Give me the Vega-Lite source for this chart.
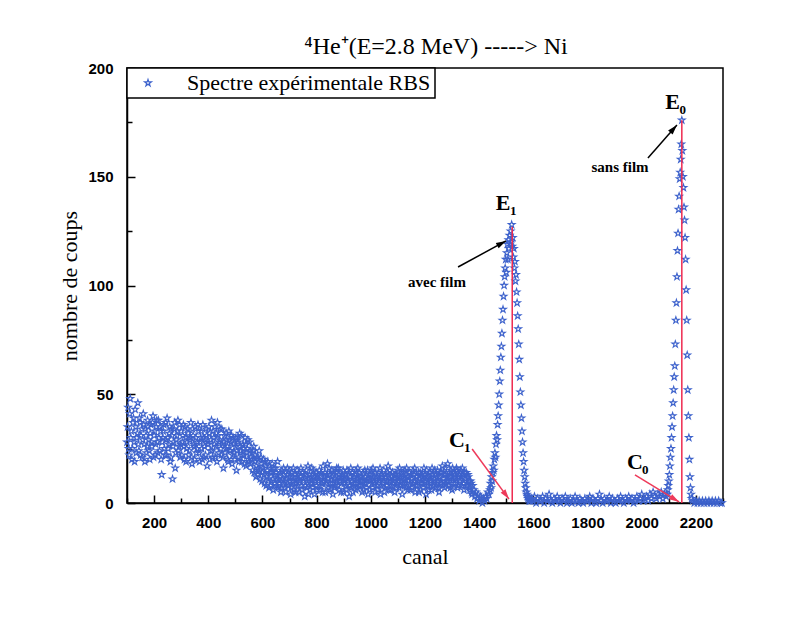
{
  "$schema": "https://vega.github.io/schema/vega-lite/v6.json",
  "width": 596,
  "height": 435,
  "autosize": "none",
  "padding": {"left": 127, "top": 68, "right": 77, "bottom": 120},
  "background": "white",
  "title": {"text": "⁴He⁺(E=2.8 MeV) -----> Ni", "font": "Liberation Serif", "fontSize": 24, "fontWeight": "normal", "color": "black", "offset": 2, "dx": 11, "anchor": "middle", "frame": "group"},
  "resolve": {"axis": {"x": "independent", "y": "independent"}},
  "config": {
    "view": {"stroke": "black", "strokeWidth": 1.5},
    "legend": {"orient": "top-left", "offset": 0, "strokeColor": "black", "strokeWidth": 1.5, "fillColor": "white", "padding": 4, "labelFont": "Liberation Serif", "labelFontSize": 22, "labelColor": "black", "labelLimit": 400, "labelOffset": 28, "symbolOffset": 6, "symbolSize": 50, "symbolStrokeWidth": 1.2, "symbolType": "M0,-1L0.2245,-0.309L0.9511,-0.309L0.3633,0.118L0.5878,0.809L0,0.382L-0.5878,0.809L-0.3633,0.118L-0.9511,-0.309L-0.2245,-0.309Z"}
  },
  "datasets": {
    "spec": [
      {"c":100,"n":28},{"c":104,"n":44},{"c":108,"n":22},{"c":112,"n":48},{"c":116,"n":33},{"c":120,"n":25},{"c":124,"n":39},{"c":128,"n":19},{"c":132,"n":35},{"c":136,"n":30},
      {"c":140,"n":46},{"c":144,"n":24},{"c":148,"n":37},{"c":152,"n":31},{"c":156,"n":21},{"c":160,"n":41},{"c":164,"n":27},{"c":168,"n":34},{"c":172,"n":23},{"c":176,"n":38},
      {"c":180,"n":29},{"c":184,"n":20},{"c":188,"n":36},{"c":192,"n":26},{"c":196,"n":40},{"c":200,"n":31},{"c":204,"n":22},{"c":208,"n":35},{"c":212,"n":28},{"c":216,"n":38},
      {"c":220,"n":24},{"c":224,"n":33},{"c":228,"n":13},{"c":232,"n":30},{"c":236,"n":36},{"c":240,"n":22},{"c":244,"n":29},{"c":248,"n":39},{"c":252,"n":25},{"c":256,"n":32},
      {"c":260,"n":19},{"c":264,"n":34},{"c":268,"n":11},{"c":272,"n":28},{"c":276,"n":37},{"c":280,"n":23},{"c":284,"n":31},{"c":288,"n":38},{"c":292,"n":26},{"c":296,"n":21},
      {"c":300,"n":33},{"c":304,"n":28},{"c":308,"n":36},{"c":312,"n":20},{"c":316,"n":30},{"c":320,"n":25},{"c":324,"n":34},{"c":328,"n":22},{"c":332,"n":29},{"c":336,"n":37},
      {"c":340,"n":18},{"c":344,"n":31},{"c":348,"n":26},{"c":352,"n":35},{"c":356,"n":23},{"c":360,"n":28},{"c":364,"n":33},{"c":368,"n":19},{"c":372,"n":30},{"c":376,"n":25},
      {"c":380,"n":36},{"c":384,"n":21},{"c":388,"n":29},{"c":392,"n":34},{"c":396,"n":17},{"c":400,"n":27},{"c":404,"n":32},{"c":408,"n":24},{"c":412,"n":38},{"c":416,"n":21},
      {"c":420,"n":30},{"c":424,"n":35},{"c":428,"n":26},{"c":432,"n":19},{"c":436,"n":31},{"c":440,"n":28},{"c":444,"n":34},{"c":448,"n":22},{"c":452,"n":27},{"c":456,"n":16},
      {"c":460,"n":31},{"c":464,"n":25},{"c":468,"n":29},{"c":472,"n":20},{"c":476,"n":33},{"c":480,"n":24},{"c":484,"n":28},{"c":488,"n":18},{"c":492,"n":30},{"c":496,"n":23},
      {"c":500,"n":26},{"c":504,"n":15},{"c":508,"n":29},{"c":512,"n":21},{"c":516,"n":32},{"c":520,"n":24},{"c":524,"n":19},{"c":528,"n":27},{"c":532,"n":22},{"c":536,"n":30},
      {"c":540,"n":17},{"c":544,"n":25},{"c":548,"n":20},{"c":552,"n":28},{"c":556,"n":18},
      {"c":560,"n":23},{"c":564,"n":15},{"c":568,"n":26},{"c":572,"n":19},{"c":576,"n":12},{"c":580,"n":21},{"c":584,"n":16},{"c":588,"n":24},{"c":592,"n":11},{"c":596,"n":18},
      {"c":600,"n":14},{"c":604,"n":20},{"c":608,"n":9},{"c":612,"n":17},{"c":616,"n":12},{"c":620,"n":19},{"c":624,"n":7},{"c":628,"n":14},{"c":632,"n":10},{"c":636,"n":18},
      {"c":640,"n":6},{"c":644,"n":13},{"c":648,"n":16},{"c":652,"n":8},{"c":656,"n":19},{"c":660,"n":11},
      {"c":664,"n":12},{"c":668,"n":5},{"c":672,"n":15},{"c":676,"n":9},{"c":680,"n":13},{"c":684,"n":7},{"c":688,"n":11},{"c":692,"n":16},{"c":696,"n":8},{"c":700,"n":12},
      {"c":704,"n":4},{"c":708,"n":14},{"c":712,"n":10},{"c":716,"n":6},{"c":720,"n":13},{"c":724,"n":9},{"c":728,"n":15},{"c":732,"n":11},{"c":736,"n":5},{"c":740,"n":12},
      {"c":744,"n":8},{"c":748,"n":14},{"c":752,"n":10},{"c":756,"n":3},{"c":760,"n":13},{"c":764,"n":7},{"c":768,"n":17},{"c":772,"n":11},{"c":776,"n":6},{"c":780,"n":12},
      {"c":784,"n":9},{"c":788,"n":15},{"c":792,"n":4},{"c":796,"n":11},{"c":800,"n":8},{"c":804,"n":13},{"c":808,"n":10},{"c":812,"n":6},{"c":816,"n":14},{"c":820,"n":9},
      {"c":824,"n":17},{"c":828,"n":12},{"c":832,"n":5},{"c":836,"n":10},{"c":840,"n":18},{"c":844,"n":7},{"c":848,"n":13},{"c":852,"n":9},{"c":856,"n":15},{"c":860,"n":4},
      {"c":864,"n":11},{"c":868,"n":8},{"c":872,"n":14},{"c":876,"n":10},{"c":880,"n":16},{"c":884,"n":6},{"c":888,"n":12},{"c":892,"n":9},{"c":896,"n":13},{"c":900,"n":5},
      {"c":904,"n":11},{"c":908,"n":8},{"c":912,"n":15},{"c":916,"n":10},{"c":920,"n":3},{"c":924,"n":12},{"c":928,"n":7},{"c":932,"n":14},{"c":936,"n":9},{"c":940,"n":13},
      {"c":944,"n":6},{"c":948,"n":11},{"c":952,"n":16},{"c":956,"n":8},{"c":960,"n":12},{"c":964,"n":10},{"c":968,"n":5},{"c":972,"n":14},{"c":976,"n":9},{"c":980,"n":12},
      {"c":984,"n":7},{"c":988,"n":15},{"c":992,"n":11},{"c":996,"n":6},{"c":1000,"n":13},{"c":1004,"n":9},{"c":1008,"n":16},{"c":1012,"n":10},{"c":1016,"n":5},{"c":1020,"n":12},
      {"c":1024,"n":8},{"c":1028,"n":14},{"c":1032,"n":11},{"c":1036,"n":4},{"c":1040,"n":13},{"c":1044,"n":9},{"c":1048,"n":15},{"c":1052,"n":7},{"c":1056,"n":12},{"c":1060,"n":10},
      {"c":1064,"n":17},{"c":1068,"n":6},{"c":1072,"n":11},{"c":1076,"n":8},{"c":1080,"n":14},{"c":1084,"n":10},{"c":1088,"n":5},{"c":1092,"n":13},{"c":1096,"n":9},{"c":1100,"n":15},
      {"c":1104,"n":7},{"c":1108,"n":12},{"c":1112,"n":10},{"c":1116,"n":4},{"c":1120,"n":14},{"c":1124,"n":8},{"c":1128,"n":11},{"c":1132,"n":16},{"c":1136,"n":6},{"c":1140,"n":12},
      {"c":1144,"n":9},{"c":1148,"n":13},{"c":1152,"n":7},{"c":1156,"n":15},{"c":1160,"n":10},{"c":1164,"n":5},{"c":1168,"n":12},{"c":1172,"n":8},{"c":1176,"n":14},{"c":1180,"n":11},
      {"c":1184,"n":6},{"c":1188,"n":13},{"c":1192,"n":9},{"c":1196,"n":16},{"c":1200,"n":10},{"c":1204,"n":4},{"c":1208,"n":12},{"c":1212,"n":8},{"c":1216,"n":14},{"c":1220,"n":11},
      {"c":1224,"n":6},{"c":1228,"n":13},{"c":1232,"n":9},{"c":1236,"n":15},{"c":1240,"n":7},{"c":1244,"n":12},{"c":1248,"n":10},{"c":1252,"n":5},{"c":1256,"n":14},{"c":1260,"n":9},
      {"c":1264,"n":17},{"c":1268,"n":11},{"c":1272,"n":7},{"c":1276,"n":13},{"c":1280,"n":10},{"c":1284,"n":18},{"c":1288,"n":8},{"c":1292,"n":12},{"c":1296,"n":15},{"c":1300,"n":6},
      {"c":1304,"n":11},{"c":1308,"n":14},{"c":1312,"n":9},{"c":1316,"n":16},{"c":1320,"n":7},{"c":1324,"n":12},{"c":1328,"n":10},{"c":1332,"n":15},{"c":1336,"n":8},{"c":1340,"n":13},
      {"c":1344,"n":6},{"c":1348,"n":11},{"c":1352,"n":14},{"c":1356,"n":9},{"c":1360,"n":12},{"c":1364,"n":7},{"c":1368,"n":10},{"c":1372,"n":5},{"c":1376,"n":8},
      {"c":102,"n":35},{"c":106,"n":25},{"c":110,"n":41},{"c":114,"n":30},{"c":118,"n":20},{"c":122,"n":37},{"c":126,"n":28},{"c":130,"n":43},{"c":134,"n":23},{"c":138,"n":32},
      {"c":142,"n":27},{"c":146,"n":39},{"c":150,"n":22},{"c":154,"n":34},{"c":158,"n":29},{"c":162,"n":36},{"c":166,"n":19},{"c":170,"n":31},{"c":174,"n":26},{"c":178,"n":35},
      {"c":182,"n":24},{"c":186,"n":32},{"c":190,"n":28},{"c":194,"n":37},{"c":198,"n":21},{"c":202,"n":33},{"c":206,"n":27},{"c":210,"n":38},{"c":214,"n":23},{"c":218,"n":30},
      {"c":222,"n":35},{"c":226,"n":20},{"c":230,"n":28},{"c":234,"n":33},{"c":238,"n":25},{"c":242,"n":37},{"c":246,"n":22},{"c":250,"n":30},{"c":254,"n":27},{"c":258,"n":35},
      {"c":262,"n":21},{"c":266,"n":31},{"c":270,"n":26},{"c":274,"n":34},{"c":278,"n":16},{"c":282,"n":29},{"c":286,"n":33},{"c":290,"n":24},{"c":294,"n":36},{"c":298,"n":27},
      {"c":302,"n":22},{"c":306,"n":31},{"c":310,"n":26},{"c":314,"n":35},{"c":318,"n":19},{"c":322,"n":28},{"c":326,"n":32},{"c":330,"n":24},{"c":334,"n":30},{"c":338,"n":21},
      {"c":342,"n":34},{"c":346,"n":27},{"c":350,"n":20},{"c":354,"n":30},{"c":358,"n":25},{"c":362,"n":36},{"c":366,"n":23},{"c":370,"n":28},{"c":374,"n":33},{"c":378,"n":20},
      {"c":382,"n":30},{"c":386,"n":26},{"c":390,"n":22},{"c":394,"n":31},{"c":398,"n":27},{"c":402,"n":35},{"c":406,"n":20},{"c":410,"n":29},{"c":414,"n":24},{"c":418,"n":33},
      {"c":422,"n":27},{"c":426,"n":21},{"c":430,"n":32},{"c":434,"n":37},{"c":438,"n":23},{"c":442,"n":29},{"c":446,"n":25},{"c":450,"n":34},{"c":454,"n":21},{"c":458,"n":28},
      {"c":462,"n":23},{"c":466,"n":32},{"c":470,"n":26},{"c":474,"n":19},{"c":478,"n":29},{"c":482,"n":24},{"c":486,"n":31},{"c":490,"n":22},{"c":494,"n":27},{"c":498,"n":20},
      {"c":502,"n":30},{"c":506,"n":24},{"c":510,"n":28},{"c":514,"n":19},{"c":518,"n":26},{"c":522,"n":31},{"c":526,"n":22},{"c":530,"n":25},{"c":534,"n":18},{"c":538,"n":27},
      {"c":542,"n":23},{"c":546,"n":29},{"c":550,"n":19},{"c":554,"n":24},{"c":558,"n":21},
      {"c":562,"n":20},{"c":566,"n":24},{"c":570,"n":14},{"c":574,"n":22},{"c":578,"n":17},{"c":582,"n":13},{"c":586,"n":20},{"c":590,"n":15},{"c":594,"n":21},{"c":598,"n":10},
      {"c":602,"n":16},{"c":606,"n":13},{"c":610,"n":19},{"c":614,"n":8},{"c":618,"n":15},{"c":622,"n":11},{"c":626,"n":17},{"c":630,"n":8},{"c":634,"n":14},{"c":638,"n":11},
      {"c":642,"n":16},{"c":646,"n":9},{"c":650,"n":14},{"c":654,"n":11},{"c":658,"n":7},
      {"c":662,"n":9},{"c":666,"n":14},{"c":670,"n":7},{"c":674,"n":11},{"c":678,"n":16},{"c":682,"n":10},{"c":686,"n":5},{"c":690,"n":13},{"c":694,"n":9},{"c":698,"n":15},
      {"c":702,"n":10},{"c":706,"n":7},{"c":710,"n":12},{"c":714,"n":16},{"c":718,"n":9},{"c":722,"n":5},{"c":726,"n":12},{"c":730,"n":8},{"c":734,"n":14},{"c":738,"n":10},
      {"c":742,"n":16},{"c":746,"n":6},{"c":750,"n":11},{"c":754,"n":13},{"c":758,"n":8},{"c":762,"n":15},{"c":766,"n":10},{"c":770,"n":4},{"c":774,"n":13},{"c":778,"n":9},
      {"c":782,"n":16},{"c":786,"n":7},{"c":790,"n":12},{"c":794,"n":10},{"c":798,"n":14},{"c":802,"n":6},{"c":806,"n":11},{"c":810,"n":15},{"c":814,"n":8},{"c":818,"n":12},
      {"c":822,"n":5},{"c":826,"n":10},{"c":830,"n":14},{"c":834,"n":9},{"c":838,"n":13},{"c":842,"n":11},{"c":846,"n":16},{"c":850,"n":6},{"c":854,"n":12},{"c":858,"n":9},
      {"c":862,"n":14},{"c":866,"n":7},{"c":870,"n":11},{"c":874,"n":16},{"c":878,"n":8},{"c":882,"n":13},{"c":886,"n":10},{"c":890,"n":5},{"c":894,"n":12},{"c":898,"n":15},
      {"c":902,"n":9},{"c":906,"n":13},{"c":910,"n":6},{"c":914,"n":11},{"c":918,"n":14},{"c":922,"n":8},{"c":926,"n":16},{"c":930,"n":10},{"c":934,"n":5},{"c":938,"n":12},
      {"c":942,"n":9},{"c":946,"n":15},{"c":950,"n":7},{"c":954,"n":11},{"c":958,"n":14},{"c":962,"n":8},{"c":966,"n":12},{"c":970,"n":10},{"c":974,"n":6},{"c":978,"n":15},
      {"c":982,"n":9},{"c":986,"n":11},{"c":990,"n":4},{"c":994,"n":13},{"c":998,"n":10},{"c":1002,"n":15},{"c":1006,"n":7},{"c":1010,"n":12},{"c":1014,"n":9},{"c":1018,"n":14},
      {"c":1022,"n":11},{"c":1026,"n":6},{"c":1030,"n":10},{"c":1034,"n":16},{"c":1038,"n":8},{"c":1042,"n":12},{"c":1046,"n":10},{"c":1050,"n":5},{"c":1054,"n":13},{"c":1058,"n":8},
      {"c":1062,"n":14},{"c":1066,"n":10},{"c":1070,"n":15},{"c":1074,"n":6},{"c":1078,"n":12},{"c":1082,"n":9},{"c":1086,"n":13},{"c":1090,"n":11},{"c":1094,"n":7},{"c":1098,"n":12},
      {"c":1102,"n":10},{"c":1106,"n":16},{"c":1110,"n":8},{"c":1114,"n":13},{"c":1118,"n":9},{"c":1122,"n":11},{"c":1126,"n":15},{"c":1130,"n":7},{"c":1134,"n":12},{"c":1138,"n":10},
      {"c":1142,"n":14},{"c":1146,"n":6},{"c":1150,"n":11},{"c":1154,"n":9},{"c":1158,"n":13},{"c":1162,"n":16},{"c":1166,"n":8},{"c":1170,"n":12},{"c":1174,"n":10},{"c":1178,"n":5},
      {"c":1182,"n":14},{"c":1186,"n":9},{"c":1190,"n":12},{"c":1194,"n":7},{"c":1198,"n":13},{"c":1202,"n":11},{"c":1206,"n":15},{"c":1210,"n":9},{"c":1214,"n":6},{"c":1218,"n":12},
      {"c":1222,"n":10},{"c":1226,"n":16},{"c":1230,"n":8},{"c":1234,"n":11},{"c":1238,"n":13},{"c":1242,"n":9},{"c":1246,"n":15},{"c":1250,"n":7},{"c":1254,"n":12},{"c":1258,"n":10},
      {"c":1262,"n":14},{"c":1266,"n":8},{"c":1270,"n":13},{"c":1274,"n":16},{"c":1278,"n":9},{"c":1282,"n":12},{"c":1286,"n":10},{"c":1290,"n":14},{"c":1294,"n":7},{"c":1298,"n":12},
      {"c":1302,"n":16},{"c":1306,"n":9},{"c":1310,"n":13},{"c":1314,"n":11},{"c":1318,"n":15},{"c":1322,"n":8},{"c":1326,"n":13},{"c":1330,"n":10},{"c":1334,"n":12},{"c":1338,"n":16},
      {"c":1342,"n":9},{"c":1346,"n":14},{"c":1350,"n":11},{"c":1354,"n":8},{"c":1358,"n":13},{"c":1362,"n":10},{"c":1366,"n":6},{"c":1370,"n":9},{"c":1374,"n":4},
      {"c":1380,"n":6},{"c":1384,"n":3},{"c":1388,"n":5},{"c":1392,"n":2},{"c":1396,"n":4},{"c":1400,"n":1},{"c":1404,"n":3},{"c":1408,"n":2},{"c":1412,"n":0},{"c":1416,"n":2},
      {"c":1420,"n":1},{"c":1424,"n":3},{"c":1428,"n":2},{"c":1432,"n":5},{"c":1436,"n":4},
      {"c":1440,"n":6},{"c":1442,"n":9},{"c":1444,"n":7},{"c":1446,"n":12},{"c":1448,"n":10},{"c":1450,"n":14},{"c":1452,"n":17},{"c":1454,"n":15},{"c":1456,"n":20},{"c":1458,"n":23},
      {"c":1460,"n":21},{"c":1462,"n":27},{"c":1464,"n":31},{"c":1466,"n":29},{"c":1468,"n":36},{"c":1470,"n":40},{"c":1472,"n":45},{"c":1474,"n":50},{"c":1476,"n":56},{"c":1478,"n":61},
      {"c":1480,"n":67},{"c":1482,"n":72},{"c":1484,"n":78},{"c":1486,"n":84},{"c":1488,"n":89},{"c":1490,"n":95},{"c":1492,"n":100},{"c":1494,"n":104},{"c":1496,"n":108},{"c":1498,"n":112},
      {"c":1500,"n":106},{"c":1502,"n":115},{"c":1504,"n":119},{"c":1506,"n":112},{"c":1508,"n":121},{"c":1510,"n":117},{"c":1512,"n":123},{"c":1514,"n":119},{"c":1516,"n":125},{"c":1518,"n":120},
      {"c":1520,"n":128},{"c":1522,"n":118},{"c":1524,"n":122},{"c":1526,"n":113},{"c":1528,"n":117},{"c":1530,"n":108},{"c":1532,"n":111},{"c":1534,"n":102},{"c":1536,"n":105},{"c":1538,"n":97},
      {"c":1540,"n":92},{"c":1542,"n":86},{"c":1544,"n":80},{"c":1546,"n":73},{"c":1548,"n":66},{"c":1550,"n":58},{"c":1552,"n":51},{"c":1554,"n":45},{"c":1556,"n":39},{"c":1558,"n":33},
      {"c":1560,"n":28},{"c":1562,"n":23},{"c":1564,"n":19},{"c":1566,"n":15},{"c":1568,"n":12},{"c":1570,"n":9},{"c":1572,"n":7},{"c":1574,"n":5},{"c":1576,"n":4},{"c":1578,"n":3},
      {"c":1580,"n":2},{"c":1582,"n":3},{"c":1584,"n":1},{"c":1586,"n":2},{"c":1588,"n":1},{"c":1590,"n":1},
      {"c":1592,"n":2},{"c":1598,"n":1},{"c":1604,"n":3},{"c":1610,"n":0},{"c":1616,"n":2},{"c":1622,"n":1},{"c":1628,"n":1},{"c":1634,"n":3},{"c":1640,"n":0},{"c":1646,"n":2},
      {"c":1652,"n":1},{"c":1658,"n":4},{"c":1664,"n":1},{"c":1670,"n":0},{"c":1676,"n":2},{"c":1682,"n":1},{"c":1688,"n":3},{"c":1694,"n":1},{"c":1700,"n":0},{"c":1706,"n":2},
      {"c":1712,"n":1},{"c":1718,"n":3},{"c":1724,"n":0},{"c":1730,"n":1},{"c":1736,"n":2},{"c":1742,"n":0},{"c":1748,"n":1},{"c":1754,"n":3},{"c":1760,"n":1},{"c":1766,"n":0},
      {"c":1772,"n":2},{"c":1778,"n":1},{"c":1784,"n":0},{"c":1790,"n":2},{"c":1796,"n":1},{"c":1802,"n":1},{"c":1808,"n":3},{"c":1814,"n":0},{"c":1820,"n":2},{"c":1826,"n":1},
      {"c":1832,"n":0},{"c":1838,"n":2},{"c":1844,"n":4},{"c":1850,"n":1},{"c":1856,"n":0},{"c":1862,"n":2},{"c":1868,"n":1},{"c":1874,"n":1},{"c":1880,"n":3},{"c":1886,"n":0},
      {"c":1892,"n":2},{"c":1898,"n":1},{"c":1904,"n":0},{"c":1910,"n":2},{"c":1916,"n":1},{"c":1922,"n":3},{"c":1928,"n":1},{"c":1934,"n":0},{"c":1940,"n":2},{"c":1946,"n":1},
      {"c":1952,"n":3},{"c":1958,"n":1},{"c":1964,"n":2},{"c":1970,"n":0},{"c":1976,"n":1},{"c":1982,"n":3},{"c":1988,"n":1},{"c":1994,"n":2},{"c":2000,"n":4},{"c":2006,"n":1},
      {"c":2012,"n":2},{"c":2018,"n":3},{"c":2024,"n":1},{"c":2030,"n":4},{"c":2036,"n":2},{"c":2042,"n":5},{"c":2048,"n":3},{"c":2054,"n":2},{"c":2060,"n":4},{"c":2066,"n":3},
      {"c":2072,"n":5},{"c":2078,"n":2},{"c":2084,"n":4},{"c":2090,"n":3},
      {"c":2094,"n":4},{"c":2096,"n":6},{"c":2098,"n":8},{"c":2100,"n":10},{"c":2102,"n":13},{"c":2104,"n":17},{"c":2106,"n":21},{"c":2108,"n":25},{"c":2110,"n":30},{"c":2112,"n":35},
      {"c":2114,"n":40},{"c":2116,"n":46},{"c":2118,"n":52},{"c":2120,"n":58},{"c":2122,"n":63},{"c":2124,"n":73},{"c":2126,"n":84},{"c":2128,"n":92},{"c":2130,"n":104},{"c":2132,"n":116},
      {"c":2134,"n":124},{"c":2136,"n":135},{"c":2138,"n":141},{"c":2140,"n":149},{"c":2142,"n":152},{"c":2144,"n":158},{"c":2146,"n":165},{"c":2148,"n":176},{"c":2150,"n":162},{"c":2152,"n":150},
      {"c":2154,"n":145},{"c":2156,"n":136},{"c":2158,"n":130},{"c":2160,"n":122},{"c":2162,"n":112},{"c":2164,"n":98},{"c":2166,"n":84},{"c":2168,"n":68},{"c":2170,"n":52},{"c":2172,"n":40},
      {"c":2174,"n":30},{"c":2176,"n":20},{"c":2178,"n":12},{"c":2180,"n":7},{"c":2182,"n":4},{"c":2184,"n":2},
      {"c":2188,"n":1},{"c":2194,"n":0},{"c":2200,"n":1},{"c":2206,"n":0},{"c":2212,"n":1},{"c":2218,"n":0},{"c":2224,"n":1},{"c":2230,"n":0},{"c":2236,"n":1},{"c":2242,"n":0},
      {"c":2248,"n":1},{"c":2254,"n":0},{"c":2260,"n":1},{"c":2266,"n":0},{"c":2272,"n":1},{"c":2278,"n":0},{"c":2284,"n":1},{"c":2290,"n":0},{"c":2296,"n":0}
    ],
    "peaks": [{"c": 1522, "n0": 0, "n1": 127}, {"c": 2148, "n0": 0, "n1": 176}],
    "blackArrows": [{"x1": 1322, "y1": 108.5, "x2": 1499, "y2": 120.5}, {"x1": 2023, "y1": 158.6, "x2": 2130, "y2": 173.8}],
    "redArrows": [{"x1": 1374, "y1": 24.8, "x2": 1510, "y2": 1.8}, {"x1": 1975, "y1": 12.9, "x2": 2138, "y2": 0.5}],
    "letters": [{"c": 1488, "n": 138, "t": "E", "s": "1"}, {"c": 2114, "n": 184.4, "t": "E", "s": "0"}, {"c": 1318, "n": 29, "t": "C", "s": "1"}, {"c": 1975, "n": 18.9, "t": "C", "s": "0"}],
    "notes": [{"c": 1244, "n": 101.6, "t": "avec film"}, {"c": 1920, "n": 154.5, "t": "sans film"}]
  },
  "layer": [
    {
      "data": {"name": "spec"},
      "mark": {"type": "point", "shape": "M0,-1L0.2245,-0.309L0.9511,-0.309L0.3633,0.118L0.5878,0.809L0,0.382L-0.5878,0.809L-0.3633,0.118L-0.9511,-0.309L-0.2245,-0.309Z", "filled": false, "strokeWidth": 1.1, "size": 50, "opacity": 1},
      "encoding": {
        "x": {"field": "c", "type": "quantitative", "scale": {"domain": [100, 2300], "nice": false, "zero": false},
          "axis": {"orient": "bottom", "title": "canal", "values": [200,400,600,800,1000,1200,1400,1600,1800,2000,2200], "format": "d",
            "tickSize": -8, "tickColor": "black", "tickWidth": 1.5, "domainColor": "black", "domainWidth": 1.5, "grid": false,
            "labelFont": "Liberation Sans", "labelFontWeight": "bold", "labelFontSize": 15, "labelColor": "black", "labelPadding": 20, "labelOverlap": false, "labelFlush": false,
            "titleFont": "Liberation Serif", "titleFontSize": 22, "titleFontWeight": "normal", "titleColor": "black", "titlePadding": 16}},
        "y": {"field": "n", "type": "quantitative", "scale": {"domain": [0, 200], "nice": false},
          "axis": {"orient": "left", "title": "nombre de coups", "values": [0,50,100,150,200],
            "tickSize": -8, "tickColor": "black", "tickWidth": 1.5, "domainColor": "black", "domainWidth": 1.5, "grid": false,
            "labelFont": "Liberation Sans", "labelFontWeight": "bold", "labelFontSize": 15, "labelColor": "black", "labelPadding": 22, "labelOverlap": false,
            "titleFont": "Liberation Serif", "titleFontSize": 22, "titleFontWeight": "normal", "titleColor": "black", "titlePadding": 6}},
        "color": {"datum": "Spectre expérimentale RBS", "scale": {"range": ["#3d62cc"]}, "legend": {"title": null}}
      }
    },
    {
      "data": {"name": "peaks"},
      "mark": {"type": "rule", "color": "#ee2a4f", "strokeWidth": 1.5},
      "encoding": {
        "x": {"field": "c", "type": "quantitative",
          "axis": {"orient": "bottom", "title": null, "values": [100,300,500,700,900,1100,1300,1500,1700,1900,2100,2300], "labels": false, "domain": false, "grid": false, "tickSize": -5, "tickColor": "black", "tickWidth": 1.5}},
        "y": {"field": "n0", "type": "quantitative",
          "axis": {"orient": "left", "title": null, "values": [25,75,125,175], "labels": false, "domain": false, "grid": false, "tickSize": -5, "tickColor": "black", "tickWidth": 1.5}},
        "y2": {"field": "n1"}
      }
    },
    {
      "data": {"name": "blackArrows"},
      "mark": {"type": "rule", "color": "black", "strokeWidth": 1.5},
      "encoding": {"x": {"field": "x1", "type": "quantitative", "axis": null}, "y": {"field": "y1", "type": "quantitative", "axis": null}, "x2": {"field": "x2"}, "y2": {"field": "y2"}}
    },
    {
      "data": {"name": "redArrows"},
      "mark": {"type": "rule", "color": "#ee3a5a", "strokeWidth": 1.5},
      "encoding": {"x": {"field": "x1", "type": "quantitative", "axis": null}, "y": {"field": "y1", "type": "quantitative", "axis": null}, "x2": {"field": "x2"}, "y2": {"field": "y2"}}
    },
    {
      "data": {"values": [{"c": 1499, "n": 120.5}]},
      "mark": {"type": "point", "shape": "M0,0L0.6,2L-0.6,2Z", "filled": true, "color": "black", "size": 100, "angle": 61.4, "opacity": 1},
      "encoding": {"x": {"field": "c", "type": "quantitative", "axis": null}, "y": {"field": "n", "type": "quantitative", "axis": null}}
    },
    {
      "data": {"values": [{"c": 2130, "n": 173.8}]},
      "mark": {"type": "point", "shape": "M0,0L0.6,2L-0.6,2Z", "filled": true, "color": "black", "size": 100, "angle": 41.2, "opacity": 1},
      "encoding": {"x": {"field": "c", "type": "quantitative", "axis": null}, "y": {"field": "n", "type": "quantitative", "axis": null}}
    },
    {
      "data": {"values": [{"c": 1510, "n": 1.8}]},
      "mark": {"type": "point", "shape": "M0,0L0.6,2L-0.6,2Z", "filled": true, "color": "#ee3a5a", "size": 100, "angle": 143.6, "opacity": 1},
      "encoding": {"x": {"field": "c", "type": "quantitative", "axis": null}, "y": {"field": "n", "type": "quantitative", "axis": null}}
    },
    {
      "data": {"values": [{"c": 2138, "n": 0.5}]},
      "mark": {"type": "point", "shape": "M0,0L0.6,2L-0.6,2Z", "filled": true, "color": "#ee3a5a", "size": 100, "angle": 121.4, "opacity": 1},
      "encoding": {"x": {"field": "c", "type": "quantitative", "axis": null}, "y": {"field": "n", "type": "quantitative", "axis": null}}
    },
    {
      "data": {"name": "letters"},
      "mark": {"type": "text", "font": "Liberation Serif", "fontSize": 22, "fontWeight": "bold", "color": "black", "align": "center", "baseline": "middle"},
      "encoding": {"x": {"field": "c", "type": "quantitative", "axis": null}, "y": {"field": "n", "type": "quantitative", "axis": null}, "text": {"field": "t"}}
    },
    {
      "data": {"name": "letters"},
      "mark": {"type": "text", "font": "Liberation Serif", "fontSize": 13, "fontWeight": "bold", "color": "black", "align": "left", "baseline": "middle", "dx": 7, "dy": 8},
      "encoding": {"x": {"field": "c", "type": "quantitative", "axis": null}, "y": {"field": "n", "type": "quantitative", "axis": null}, "text": {"field": "s"}}
    },
    {
      "data": {"name": "notes"},
      "mark": {"type": "text", "font": "Liberation Serif", "fontSize": 15, "fontWeight": "bold", "color": "black", "align": "center", "baseline": "middle"},
      "encoding": {"x": {"field": "c", "type": "quantitative", "axis": null}, "y": {"field": "n", "type": "quantitative", "axis": null}, "text": {"field": "t"}}
    }
  ]
}
